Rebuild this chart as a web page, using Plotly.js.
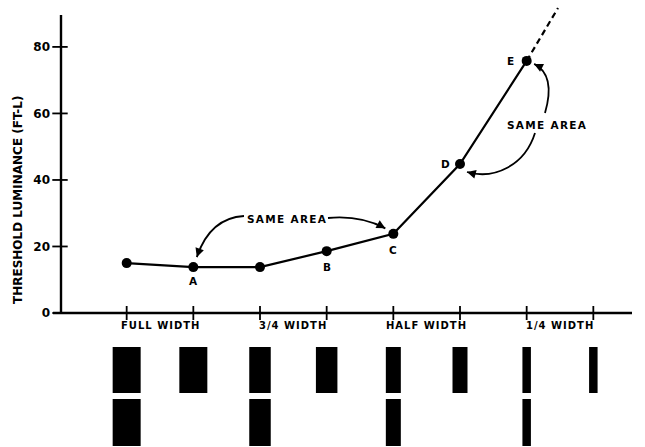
<!DOCTYPE html>
<html>
<head>
<meta charset="utf-8">
<script src="https://cdn.plot.ly/plotly-3.0.1.min.js"></script>
<style>html,body{margin:0;padding:0;background:#fff}</style>
</head>
<body>
<div id="chart" style="width:645px;height:447px"></div>
<script>
// Threshold luminance for each test target
const positions = [1, 2, 3, 4, 5, 6, 7];
const luminance = [15.0, 13.8, 13.8, 18.6, 23.8, 44.8, 75.8];
const pointLabels = ['', 'A', '', 'B', 'C', 'D', 'E'];
// dashed continuation beyond E
const extrapX = [7, 7.47];
const extrapY = [75.8, 91.7];

// target groups along the bottom
const widthLabels = ['FULL WIDTH', '3/4 WIDTH', 'HALF WIDTH', '1/4 WIDTH'];
const widthFractions = [1, 0.75, 0.5, 0.25];
const xTicks = [1, 2, 3, 4, 5, 6, 7, 8];
const yTicks = [0, 20, 40, 60, 80];

// frame geometry
const W = 645, H = 447;
const M = {l: 60, r: 15, t: 7, b: 134};
const plotW = W - M.l - M.r, plotH = H - M.t - M.b;
const XR = [0, 8.55], YR = [0, 92];
const toPxX = x => M.l + (x - XR[0]) / (XR[1] - XR[0]) * plotW;
const toPxY = y => M.t + plotH - (y - YR[0]) / (YR[1] - YR[0]) * plotH;
const paperX = p => (p - M.l) / plotW;
const paperY = p => (M.t + plotH - p) / plotH;
const dataX = p => XR[0] + (p - M.l) / plotW * (XR[1] - XR[0]);
const dataY = p => YR[0] + (M.t + plotH - p) / plotH * (YR[1] - YR[0]);
const P = (x, y) => paperX(x).toFixed(5) + ',' + paperY(y).toFixed(5);

const INK = '#000';
const FONT = 'DejaVu Sans';
const f = (size) => ({family: FONT, size: size, color: INK, weight: 'bold'});
const spaced = (s, px) => '<span style="letter-spacing:' + px + 'px">' + s + '</span>';

const traces = [
  {
    x: extrapX, y: extrapY, mode: 'lines', hoverinfo: 'skip',
    line: {color: INK, width: 2.2, dash: '6px,4px'}
  },
  {
    x: positions, y: luminance, mode: 'lines+markers', hoverinfo: 'skip',
    line: {color: INK, width: 2.2},
    marker: {color: INK, size: 10}
  },
  // crossing tick marks on the horizontal axis
  {
    x: xTicks, y: xTicks.map(() => 0), mode: 'markers', cliponaxis: false, hoverinfo: 'skip',
    marker: {symbol: 'line-ns', size: 10, line: {color: INK, width: 1.8}}
  },
  // crossing tick marks on the vertical axis
  {
    x: yTicks.map(() => 0), y: yTicks, mode: 'markers', cliponaxis: false, hoverinfo: 'skip',
    marker: {symbol: 'line-ew', size: 11, line: {color: INK, width: 1.8}}
  }
];

const shapes = [];
// axis lines
shapes.push({type: 'line', xref: 'paper', yref: 'paper',
  x0: paperX(53), x1: paperX(632), y0: paperY(toPxY(0)), y1: paperY(toPxY(0)),
  line: {color: INK, width: 2.4}});
shapes.push({type: 'line', xref: 'paper', yref: 'paper',
  x0: paperX(toPxX(0) + 1), x1: paperX(toPxX(0) + 1), y0: paperY(toPxY(0)), y1: paperY(15),
  line: {color: INK, width: 2.4}});

// target pictures: two per width in the upper row, one in the lower row
const rowTop = [[347, 393], [399, 446]];
widthFractions.forEach((frac, i) => {
  const w = 26 * frac + 2;
  const pair = [xTicks[2 * i], xTicks[2 * i + 1]];
  pair.forEach((xv, j) => {
    const rows = j === 0 ? [0, 1] : [0];
    rows.forEach(r => {
      const cx = toPxX(xv);
      shapes.push({type: 'rect', xref: 'paper', yref: 'paper',
        x0: paperX(cx - w / 2), x1: paperX(cx + w / 2),
        y0: paperY(rowTop[r][0]), y1: paperY(rowTop[r][1]),
        fillcolor: INK, line: {width: 0}});
    });
  });
});

// curved "same area" connectors
const A = [toPxX(positions[1]), toPxY(luminance[1])];
const C = [toPxX(positions[4]), toPxY(luminance[4])];
const D = [toPxX(positions[5]), toPxY(luminance[5])];
const E = [toPxX(positions[6]), toPxY(luminance[6])];
const tipA = [A[0] + 3.5, A[1] - 10];
const tipC = [C[0] - 8, C[1] - 5.5];
const tipE = [E[0] + 7.5, E[1] + 3];
const tipD = [D[0] + 7, D[1] + 8];
const curves = [
  'M' + P(244, 216) + ' Q' + P(210, 218) + ' ' + P(tipA[0], tipA[1]),
  'M' + P(328, 218) + ' Q' + P(360, 215) + ' ' + P(tipC[0], tipC[1]),
  'M' + P(545, 113) + ' Q' + P(556, 75) + ' ' + P(tipE[0], tipE[1]),
  'M' + P(535, 133) + ' C' + P(525, 165) + ' ' + P(495, 180) + ' ' + P(tipD[0], tipD[1])
];
curves.forEach(p => shapes.push({type: 'path', xref: 'paper', yref: 'paper', path: p,
  line: {color: INK, width: 1.8}}));

const annotations = [];
// arrowheads at the curve ends
const heads = [
  [tipA, 2.9, -8.5], [tipC, -7.9, -4.3], [tipE, 8.0, 4.0], [tipD, 8.7, 2.4]
];
heads.forEach(([t, ax, ay]) => annotations.push({
  x: dataX(t[0]), y: dataY(t[1]), xref: 'x', yref: 'y', text: '',
  showarrow: true, arrowhead: 2, arrowsize: 1.1, arrowwidth: 1.6, arrowcolor: INK,
  ax: ax, ay: ay, standoff: 0
}));

annotations.push({xref: 'paper', yref: 'paper', x: paperX(287), y: paperY(219),
  text: spaced('SAME AREA', 1.3), showarrow: false, font: f(10.5), xanchor: 'center', yanchor: 'middle'});
annotations.push({xref: 'paper', yref: 'paper', x: paperX(547), y: paperY(125),
  text: spaced('SAME AREA', 1.3), showarrow: false, font: f(10.5), xanchor: 'center', yanchor: 'middle'});

// point letters
const labelShift = {A: [0, -14], B: [0, -16], C: [0, -16], D: [-15, 0], E: [-16, 0]};
pointLabels.forEach((lab, i) => {
  if (!lab) return;
  const s = labelShift[lab];
  annotations.push({x: positions[i], y: luminance[i], xref: 'x', yref: 'y', text: lab,
    showarrow: false, xshift: s[0], yshift: s[1], font: f(10.5),
    xanchor: 'center', yanchor: 'middle'});
});

// group captions under the axis
widthLabels.forEach((lab, i) => {
  annotations.push({x: (xTicks[2 * i] + xTicks[2 * i + 1]) / 2, xref: 'x',
    y: paperY(325), yref: 'paper', text: spaced(lab, 1), showarrow: false, font: f(10),
    xanchor: 'center', yanchor: 'middle'});
});

// vertical axis title
annotations.push({xref: 'paper', yref: 'paper', x: paperX(18), y: paperY(200),
  text: 'THRESHOLD LUMINANCE (FT-L)', textangle: -90, showarrow: false, font: f(12),
  xanchor: 'center', yanchor: 'middle'});

const layout = {
  width: W, height: H,
  margin: M,
  paper_bgcolor: '#fff', plot_bgcolor: '#fff',
  showlegend: false,
  xaxis: {range: XR, showgrid: false, zeroline: false, showline: false,
    showticklabels: false, ticks: ''},
  yaxis: {range: YR, showgrid: false, zeroline: false, showline: false,
    tickmode: 'array', tickvals: yTicks, ticks: '', ticklabelstandoff: 9,
    tickfont: f(12)},
  shapes: shapes,
  annotations: annotations
};

Plotly.newPlot('chart', traces, layout, {staticPlot: true, displayModeBar: false});
</script>
</body>
</html>
